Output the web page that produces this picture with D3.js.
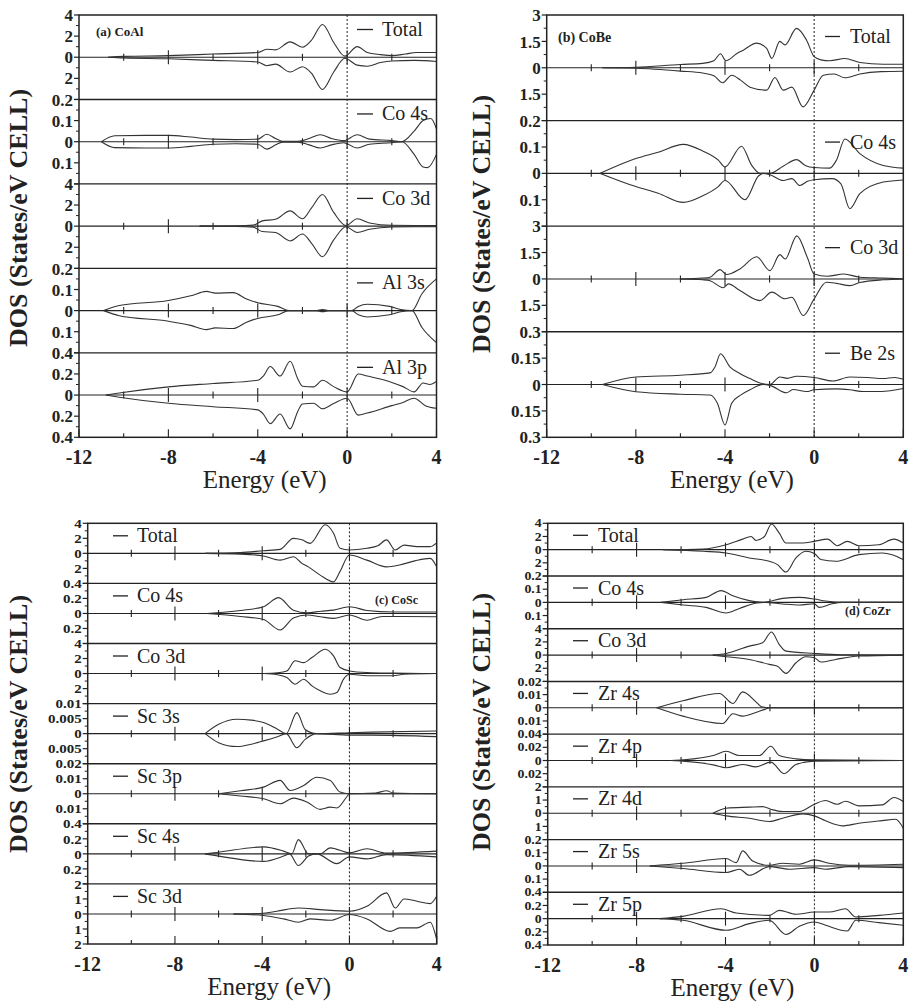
<!DOCTYPE html>
<html><head><meta charset="utf-8">
<script src="https://cdn.jsdelivr.net/npm/d3@7"></script>
<style>
body{margin:0;background:#fff}
svg{display:block}
text{font-family:"Liberation Serif","Times New Roman",Times,serif}
</style>
</head><body>
<svg id="chart" width="909" height="1003"></svg>
<script>
// ================= DATA =================
const energyTicks = [-12, -10, -8, -6, -4, -2, 0, 2, 4];
const energyLabels = [-12, -8, -4, 0, 4];

// ---- (a) CoAl ----
const coAlNames = ["Total", "Co 4s", "Co 3d", "Al 3s", "Al 3p"];
const coAlMax = [4, 0.2, 4, 0.2, 0.4];
const coAlStep = [2, 0.1, 2, 0.1, 0.2];
const coAlTotalUp = [[-10.7,0],[-10,0.08],[-8,0.15],[-6,0.3],[-4,0.45],[-3.6,0.75],[-3.2,0.7],[-2.55,1.45],[-2.0,0.95],[-1.6,1.6],[-1.1,3.1],[-0.6,1.4],[-0.1,0.1],[0.45,1.0],[0.9,0.45],[1.5,0.25],[2,0.15],[2.6,0.3],[3.1,0.45],[4,0.45]];
const coAlTotalDn = [[-10.7,0],[-10,0.08],[-8,0.15],[-6,0.3],[-4,0.45],[-3.6,0.8],[-3.2,0.65],[-2.55,1.4],[-2.0,0.9],[-1.6,1.5],[-1.1,3.05],[-0.6,1.4],[-0.1,0.1],[0.45,0.75],[0.9,0.85],[1.5,0.5],[2,0.35],[3,0.3],[4,0.4]];
const coAlCo4sUp = [[-11,0],[-10.4,0.028],[-9,0.03],[-8,0.03],[-7,0.022],[-6,0.012],[-5,0.01],[-4,0.012],[-3.6,0.035],[-3.2,0.015],[-2.9,0.002],[-2.2,0.002],[-1.7,0.015],[-1.2,0.033],[-0.7,0.015],[-0.15,0.005],[0.45,0.033],[1.0,0.012],[2,0.005],[2.45,0],[3.0,0.05],[3.4,0.1],[3.75,0.11],[4,0.06]];
const coAlCo4sDn = [[-11,0],[-10.4,0.028],[-9,0.03],[-8,0.03],[-7,0.022],[-6,0.012],[-5,0.01],[-4,0.012],[-3.6,0.035],[-3.2,0.015],[-2.9,0.002],[-2.2,0.002],[-1.7,0.015],[-1.2,0.03],[-0.7,0.015],[-0.15,0.005],[0.45,0.03],[1.0,0.012],[2,0.005],[2.45,0],[3.0,0.06],[3.4,0.12],[3.6,0.123],[4,0.06]];
const coAlCo3dUp = [[-6.6,0],[-5,0.03],[-4.2,0.1],[-3.8,0.5],[-3.2,0.65],[-2.55,1.45],[-2.0,0.7],[-1.6,1.7],[-1.1,3.0],[-0.6,1.3],[-0.05,0.05],[0.45,0.7],[1.0,0.3],[2,0.08],[4,0.05]];
const coAlCo3dDn = [[-6.6,0],[-5,0.03],[-4.2,0.1],[-3.8,0.5],[-3.2,0.6],[-2.55,1.4],[-2.0,0.75],[-1.6,1.6],[-1.1,2.9],[-0.6,1.3],[-0.05,0.05],[0.45,0.6],[1.0,0.3],[2,0.08],[4,0.05]];
const coAlAl3sUp = [[-10.9,0],[-10.2,0.024],[-8,0.048],[-7,0.07],[-6.3,0.091],[-5.9,0.083],[-5.1,0.085],[-4.5,0.055],[-4,0.037],[-3.1,0.02],[-2.6,0],[-1.4,0],[-1.1,0.005],[-0.8,0],[0.2,0],[0.5,0.02],[0.9,0.03],[1.9,0.02],[2.4,0.005],[2.9,0],[3.35,0.08],[4,0.15]];
const coAlAl3sDn = [[-10.9,0],[-10.2,0.024],[-8,0.05],[-7,0.07],[-6.3,0.09],[-5.9,0.082],[-5.1,0.085],[-4.5,0.055],[-4,0.037],[-3.1,0.02],[-2.6,0],[-1.4,0],[-1.1,0.005],[-0.8,0],[0.2,0],[0.5,0.02],[0.9,0.03],[1.9,0.02],[2.4,0.005],[2.9,0],[3.35,0.08],[4,0.152]];
const coAlAl3pUp = [[-10.8,0],[-10.2,0.02],[-8,0.078],[-6,0.11],[-4,0.14],[-3.75,0.18],[-3.44,0.27],[-3.0,0.18],[-2.55,0.32],[-2.2,0.15],[-2.0,0.084],[-1.5,0.078],[-1.1,0.14],[-0.6,0.08],[0,0.03],[0.5,0.2],[0.9,0.18],[2,0.12],[2.5,0.08],[3.0,0.03],[3.4,0.115],[3.7,0.1],[4,0.13]];
const coAlAl3pDn = [[-10.8,0],[-10.2,0.02],[-8,0.078],[-6,0.11],[-4,0.14],[-3.75,0.18],[-3.44,0.27],[-3.0,0.18],[-2.55,0.32],[-2.2,0.15],[-2.0,0.084],[-1.5,0.078],[-1.1,0.13],[-0.6,0.08],[0,0.03],[0.5,0.19],[0.9,0.17],[2,0.1],[2.5,0.07],[3.0,0.03],[3.5,0.1],[4,0.125]];

// ---- (b) CoBe ----
const coBeNames = ["Total", "Co 4s", "Co 3d", "Be 2s"];
const coBeMax = [3, 0.2, 3, 0.3];
const coBeStep = [1.5, 0.1, 1.5, 0.15];
const coBeTotalUp = [[-9.5,0],[-8,0.03],[-6,0.19],[-5,0.25],[-4.5,0.4],[-4.2,0.8],[-3.96,0.4],[-3.48,0.8],[-3.18,1.0],[-2.58,1.4],[-2.13,1.1],[-1.9,0.53],[-1.54,1.5],[-1.31,1.3],[-0.79,2.24],[-0.34,1.57],[0,0.63],[0.3,0.45],[0.7,0.4],[1.38,0.53],[2.05,0.3],[3.1,0.2],[4,0.2]];
const coBeTotalDn = [[-9.5,0],[-8,0.03],[-6,0.19],[-5,0.3],[-4.5,0.45],[-4.1,0.85],[-3.7,0.42],[-3.3,0.7],[-2.88,1.1],[-2.13,1.27],[-1.76,0.55],[-1.39,1.27],[-1.0,1.1],[-0.5,2.22],[0,1.27],[0.41,0.42],[0.9,0.35],[1.38,0.57],[2.05,0.35],[3,0.22],[4,0.2]];
const coBeCo4sUp = [[-9.6,0],[-8,0.056],[-7,0.08],[-5.87,0.11],[-5,0.085],[-4.3,0.05],[-4.0,0.024],[-3.26,0.103],[-2.8,0.03],[-2.43,0],[-1.98,0],[-1.39,0.027],[-0.79,0.052],[-0.4,0.03],[0,0.022],[0.7,0.02],[1.0,0.05],[1.38,0.13],[2.05,0.075],[3.1,0.03],[4,0.02]];
const coBeCo4sDn = [[-9.6,0],[-8,0.05],[-7,0.075],[-5.87,0.11],[-5,0.085],[-4.3,0.05],[-4.0,0.027],[-3.1,0.1],[-2.5,0.01],[-2.3,0],[-1.98,0.005],[-1.39,0.027],[-1.0,0.02],[-0.64,0.046],[-0.3,0.03],[0,0.024],[0.8,0.02],[1.2,0.04],[1.6,0.134],[2.05,0.077],[3.1,0.033],[4,0.025]];
const coBeCo3dUp = [[-6,0],[-5,0.05],[-4.67,0.1],[-4.22,0.53],[-3.93,0.25],[-3.33,0.57],[-2.58,1.26],[-1.98,0.47],[-1.54,1.38],[-1.3,1.13],[-0.78,2.45],[-0.3,1.2],[0,0.28],[0.6,0.15],[1.33,0.28],[2.05,0.1],[3.1,0.05],[4,0]];
const coBeCo3dDn = [[-6,0],[-5,0.05],[-4.67,0.1],[-4.08,0.5],[-3.85,0.28],[-3.33,0.66],[-2.43,1.23],[-1.9,0.75],[-1.31,1.13],[-1.0,1.04],[-0.49,2.08],[0,1.13],[0.55,0.19],[1.0,0.25],[1.6,0.38],[2.05,0.2],[3.1,0.05],[4,0]];
const coBeBe2sUp = [[-9.5,0],[-8,0.043],[-6,0.053],[-4.67,0.066],[-4.45,0.1],[-4.2,0.175],[-3.78,0.1],[-3.3,0.06],[-2.88,0.034],[-2.36,0.006],[-1.98,0],[-1.54,0.043],[-1.2,0.035],[-0.79,0.047],[0,0.04],[0.85,0.02],[1.6,0.043],[2.4,0.04],[3.1,0.034],[3.6,0.04],[4,0.03]];
const coBeBe2sDn = [[-9.5,0],[-8,0.041],[-6,0.055],[-4.67,0.06],[-4.34,0.107],[-4.0,0.23],[-3.7,0.107],[-3.3,0.06],[-2.88,0.03],[-2.3,0],[-1.98,0.005],[-1.24,0.047],[-0.95,0.028],[-0.34,0.04],[0,0.03],[1.0,0.025],[1.6,0.03],[2.2,0.04],[3,0.04],[4,0.023]];

// ---- (c) CoSc ----
const coScNames = ["Total", "Co 4s", "Co 3d", "Sc 3s", "Sc 3p", "Sc 4s", "Sc 3d"];
const coScMax = [4, 0.4, 4, 0.01, 0.02, 0.4, 2];
const coScStep = [2, 0.2, 2, 0.005, 0.01, 0.2, 1];
const coScTotalUp = [[-6.6,0],[-5,0.1],[-3.94,0.35],[-3.18,0.53],[-2.57,2.0],[-2.18,1.8],[-1.8,1.33],[-1.11,3.8],[-0.73,2.67],[-0.43,0.67],[0,0.45],[0.8,0.67],[1.3,1.0],[1.7,1.8],[2.1,0.45],[2.5,1.1],[3.1,0.9],[3.7,0.9],[4,1.4]];
const coScTotalDn = [[-6.6,0],[-5,0.1],[-3.94,0.35],[-3.18,0.9],[-2.57,0.45],[-2.18,1.33],[-1.88,1.8],[-1.34,2.9],[-0.73,3.8],[-0.43,2.4],[0,0.22],[0.8,0.9],[1.7,1.8],[2.3,1.55],[3.0,1.0],[3.7,0.67],[4,1.8]];
const coScCo4sUp = [[-6.55,0],[-5,0.04],[-3.94,0.09],[-3.25,0.21],[-2.57,0.044],[-1.95,0.01],[-1.3,0.03],[-0.73,0.044],[0,0.09],[0.8,0.04],[2.0,0.02],[4,0.02]];
const coScCo4sDn = [[-6.55,0],[-5,0.04],[-3.94,0.08],[-3.18,0.22],[-2.57,0.06],[-1.95,0.02],[-1.34,0.044],[-0.73,0.066],[0,0.02],[0.8,0.09],[1.5,0.04],[2.0,0.04],[4,0.044]];
const coScCo3dUp = [[-3.94,0],[-3.3,0.1],[-2.87,0.35],[-2.49,1.7],[-2.1,1.46],[-1.72,2.13],[-1.11,3.24],[-0.73,2.35],[-0.43,0.8],[0,0.35],[0.8,0.13],[2.0,0.05],[4,0]];
const coScCo3dDn = [[-3.94,0],[-3.3,0.15],[-2.87,0.53],[-2.49,1.42],[-2.1,0.75],[-1.72,1.64],[-1.34,2.3],[-0.88,2.75],[-0.58,2.53],[-0.27,0.75],[0,0.1],[0.8,0.3],[2.0,0.3],[2.5,0.1],[4,0]];
const coScSc3sUp = [[-6.62,0],[-6.0,0.0031],[-5.16,0.0048],[-4.5,0.0045],[-3.94,0.0037],[-3.3,0.0015],[-2.9,0],[-2.41,0.007],[-2.03,0.0014],[-1.5,0],[0,0.0003],[1,0.0005],[4,0.0009]];
const coScSc3sDn = [[-6.62,0],[-6.0,0.003],[-5.16,0.0043],[-4.5,0.0035],[-3.94,0.0024],[-3.3,0.001],[-2.9,0],[-2.41,0.0047],[-2.03,0.0019],[-1.5,0],[0,0.0005],[1,0.0005],[4,0.001]];
const coScSc3pUp = [[-6.0,0],[-5,0.002],[-3.94,0.0044],[-3.18,0.0089],[-2.72,0.0022],[-2.1,0.0055],[-1.5,0.011],[-0.88,0.0089],[-0.43,0.0011],[0,0],[1.2,0.0005],[1.7,0.002],[2.0,0.0005],[4,0]];
const coScSc3pDn = [[-6.0,0],[-5,0.0015],[-3.94,0.0033],[-3.18,0.0067],[-2.57,0.0029],[-1.95,0.0055],[-1.34,0.0104],[-0.88,0.0089],[-0.58,0.0095],[-0.12,0.002],[0,0],[4,0]];
const coScSc4sUp = [[-6.62,0],[-6.0,0.022],[-3.94,0.093],[-3.02,0.036],[-2.64,0],[-2.34,0.19],[-1.88,0],[-1.34,0],[-0.88,0.08],[0,0.013],[0.8,0.067],[1.7,0.01],[4,0.036]];
const coScSc4sDn = [[-6.62,0],[-6.0,0.03],[-3.94,0.1],[-3.02,0.03],[-2.75,0],[-2.34,0.155],[-1.88,0.03],[-1.5,0],[-0.58,0.13],[0,0.04],[0.8,0.067],[1.7,0.01],[4,0.04]];
const coScSc3dUp = [[-5.32,0],[-3.94,0.05],[-3.33,0.18],[-2.34,0.4],[-1.34,0.29],[0,0.18],[0.8,0.51],[1.7,1.4],[2.1,0.4],[2.5,1.0],[3.1,0.85],[3.7,0.69],[4,1.18]];
const coScSc3dDn = [[-5.32,0],[-3.94,0.1],[-3.02,0.33],[-2.34,0.55],[-1.8,0.33],[-0.88,0.42],[0,0.04],[0.8,0.33],[1.87,1.16],[2.3,0.93],[3.1,0.93],[3.7,0.55],[4,1.7]];

// ---- (d) CoZr ----
const coZrNames = ["Total", "Co 4s", "Co 3d", "Zr 4s", "Zr 4p", "Zr 4d", "Zr 5s", "Zr 5p"];
const coZrMax = [4, 0.2, 4, 0.02, 0.04, 2, 0.2, 0.4];
const coZrStep = [2, 0.1, 2, 0.01, 0.02, 1, 0.1, 0.2];
const coZrTotalUp = [[-6.8,0],[-5,0.1],[-3.97,0.75],[-3.23,1.6],[-2.85,2.0],[-2.63,1.4],[-2.25,2.0],[-1.93,3.9],[-1.58,2.5],[-1.28,1.0],[-0.53,1.0],[0,1.26],[0.59,1.6],[1.03,0.6],[1.48,1.26],[2.0,0.6],[2.9,0.75],[3.58,1.6],[4,1.0]];
const coZrTotalDn = [[-6.8,0],[-5,0.25],[-3.97,0.5],[-2.93,1.26],[-2.03,1.77],[-1.66,2.27],[-1.28,3.4],[-0.83,1.26],[-0.39,0.25],[0,0.6],[0.29,1.5],[0.96,1.77],[2.0,0.76],[3.05,0.5],[3.5,0.76],[4,1.5]];
const coZrCo4sUp = [[-6.9,0],[-5.9,0.02],[-4.87,0.038],[-4.2,0.089],[-3.67,0.05],[-2.93,0.013],[-2.33,0],[-1.43,0.03],[-0.68,0.038],[0,0.025],[0.5,0.01],[1.26,0],[4,0]];
const coZrCo4sDn = [[-6.9,0],[-5.9,0.02],[-4.87,0.038],[-3.97,0.081],[-3.37,0.046],[-2.6,0.005],[-2.2,0],[-1.43,0.012],[-0.68,0.02],[0,0.01],[0.21,0.038],[0.8,0.01],[1.26,0],[4,0]];
const coZrCo3dUp = [[-4.57,0],[-3.97,0.25],[-2.93,1.36],[-2.33,1.87],[-1.93,3.5],[-1.58,1.6],[-1.28,0.6],[0,0.25],[1.2,0.05],[4,0]];
const coZrCo3dDn = [[-4.57,0],[-3.97,0.25],[-2.93,0.66],[-2.03,1.41],[-1.66,1.7],[-1.28,2.78],[-0.83,1.16],[-0.39,0.25],[0,0.4],[0.29,1.06],[0.96,0.66],[2.0,0.15],[4,0]];
const coZrZr4sUp = [[-7.1,0],[-5.92,0.0053],[-4.27,0.0109],[-3.67,0.0033],[-3.23,0.0121],[-2.63,0.0045],[-2.4,0.001],[-2.0,0],[4,0]];
const coZrZr4sDn = [[-7.1,0],[-5.92,0.0063],[-4.12,0.0119],[-3.67,0.0045],[-3.23,0.0063],[-2.63,0.0035],[-2.2,0.001],[-2.0,0],[4,0]];
const coZrZr4pUp = [[-6.44,0],[-5.92,0.001],[-4.5,0.008],[-3.97,0.014],[-3.37,0.0075],[-2.48,0.0075],[-1.96,0.0217],[-1.58,0.0075],[-0.83,0.0025],[0,0.001],[4,0]];
const coZrZr4pDn = [[-6.44,0],[-5.92,0.001],[-4.5,0.007],[-3.97,0.011],[-3.23,0.006],[-2.63,0.0096],[-1.96,0.0025],[-1.36,0.02],[-0.83,0.006],[0,0.001],[4,0]];
const coZrZr4dUp = [[-4.57,0],[-3.97,0.38],[-2.93,0.46],[-2.33,0.5],[-1.96,0.3],[-1.43,0.13],[-0.68,0.13],[0,0.68],[0.5,0.96],[1.03,0.68],[1.4,0.91],[2.0,0.56],[3.05,0.63],[3.58,1.19],[4,0.89]];
const coZrZr4dDn = [[-4.57,0],[-3.97,0.2],[-2.93,0.38],[-2.03,0.63],[-1.43,0.38],[-0.53,0.05],[0,0.2],[0.5,0.58],[1.26,0.96],[2.0,0.76],[3.05,0.56],[3.65,0.46],[4,1.14]];
const coZrZr5sUp = [[-7.41,0],[-5.92,0.02],[-3.97,0.056],[-3.52,0.025],[-3.23,0.114],[-2.78,0.038],[-2.03,0.005],[-1.43,0.02],[-0.68,0.013],[0,0.046],[0.66,0.02],[1.56,0.005],[4,0.013]];
const coZrZr5sDn = [[-7.41,0],[-5.92,0.02],[-3.97,0.05],[-3.37,0.025],[-2.93,0.071],[-2.03,0.005],[-1.13,0.025],[0,0.013],[0.5,0.025],[1.56,0.005],[4,0.013]];
const coZrZr5pUp = [[-6.96,0],[-5.92,0.035],[-4.2,0.15],[-3.52,0.086],[-2.03,0.05],[-1.58,0.126],[-0.83,0.066],[0,0.1],[0.66,0.1],[1.4,0.15],[1.86,0.025],[2.9,0.05],[4,0.086]];
const coZrZr5pDn = [[-6.96,0],[-5.92,0.025],[-3.97,0.177],[-2.93,0.076],[-2.03,0.025],[-1.28,0.24],[-0.68,0.116],[0,0.05],[0.5,0.1],[1.48,0.187],[1.86,0.025],[2.9,0.06],[4,0.1]];

// ================= LAYOUT =================
const panels = [
  { tag: "(a) CoAl", x0: 79, x1: 436.5, top: 15, bottom: 437.3,
    names: coAlNames, max: coAlMax, step: coAlStep,
    up: [coAlTotalUp, coAlCo4sUp, coAlCo3dUp, coAlAl3sUp, coAlAl3pUp],
    dn: [coAlTotalDn, coAlCo4sDn, coAlCo3dDn, coAlAl3sDn, coAlAl3pDn],
    tagX: 96, tagY: 36, tagSize: 13, legLine: [357, 373], legText: 382, legDy: 21,
    titleX: 27, titleY: 218, tickSize: 17, tickScale: 1 },
  { tag: "(b) CoBe", x0: 546.7, x1: 903.3, top: 15, bottom: 437.3,
    names: coBeNames, max: coBeMax, step: coBeStep,
    up: [coBeTotalUp, coBeCo4sUp, coBeCo3dUp, coBeBe2sUp],
    dn: [coBeTotalDn, coBeCo4sDn, coBeCo3dDn, coBeBe2sDn],
    tagX: 558, tagY: 42, tagSize: 14, legLine: [825, 840], legText: 850, legDy: 28,
    titleX: 490, titleY: 224, tickSize: 17, tickScale: 1 },
  { tag: "(c) CoSc", x0: 87.7, x1: 436.7, top: 523.3, bottom: 944,
    names: coScNames, max: coScMax, step: coScStep,
    up: [coScTotalUp, coScCo4sUp, coScCo3dUp, coScSc3sUp, coScSc3pUp, coScSc4sUp, coScSc3dUp],
    dn: [coScTotalDn, coScCo4sDn, coScCo3dDn, coScSc3sDn, coScSc3pDn, coScSc4sDn, coScSc3dDn],
    tagX: 375, tagY: 604, tagSize: 12, legLine: [113, 128], legText: 137, legDy: 19,
    titleX: 27, titleY: 724, tickSize: 13, tickScale: 1.15 },
  { tag: "(d) CoZr", x0: 547.7, x1: 903.3, top: 523.3, bottom: 945,
    names: coZrNames, max: coZrMax, step: coZrStep,
    up: [coZrTotalUp, coZrCo4sUp, coZrCo3dUp, coZrZr4sUp, coZrZr4pUp, coZrZr4dUp, coZrZr5sUp, coZrZr5pUp],
    dn: [coZrTotalDn, coZrCo4sDn, coZrCo3dDn, coZrZr4sDn, coZrZr4pDn, coZrZr4dDn, coZrZr5sDn, coZrZr5pDn],
    tagX: 845, tagY: 615, tagSize: 12, legLine: [573, 588], legText: 598, legDy: 18.5,
    titleX: 490, titleY: 722, tickSize: 11.5, tickScale: 1.2 }
];

const svg = d3.select("#chart");
const fmt = v => String(+Math.abs(v).toFixed(4));

panels.forEach((p, pi) => {
  const g = svg.append("g");
  const x = d3.scaleLinear().domain([-12, 4]).range([p.x0, p.x1]);
  const n = p.names.length;
  const h = (p.bottom - p.top) / n;

  const clipId = "clip" + pi;
  svg.append("clipPath").attr("id", clipId).append("rect")
    .attr("x", p.x0).attr("y", p.top).attr("width", p.x1 - p.x0).attr("height", p.bottom - p.top);

  for (let i = 0; i < n; i++) {
    const t = p.top + i * h, b = t + h;
    const y = d3.scaleLinear().domain([-p.max[i], p.max[i]]).range([b, t]);
    const y0 = y(0);

    // y ticks (left, outward)
    const majors = d3.range(-p.max[i], p.max[i] + p.step[i] / 2, p.step[i]);
    const minors = d3.range(-p.max[i] + p.step[i] / 2, p.max[i], p.step[i]);
    g.selectAll(null).data(majors).join("line")
      .attr("x1", p.x0 - 5).attr("x2", p.x0).attr("y1", d => y(d)).attr("y2", d => y(d))
      .attr("stroke", "#222").attr("stroke-width", 1.2);
    g.selectAll(null).data(minors).join("line")
      .attr("x1", p.x0 - 3).attr("x2", p.x0).attr("y1", d => y(d)).attr("y2", d => y(d))
      .attr("stroke", "#222").attr("stroke-width", 1);
    const labelVals = majors.filter(d => i === n - 1 || d > -p.max[i] + 1e-9);
    g.selectAll(null).data(labelVals).join("text")
      .attr("transform", d => `translate(${p.x0 - 6},${y(d)}) scale(${p.tickScale},1)`)
      .attr("dy", "0.36em")
      .attr("text-anchor", "end").attr("font-weight", "bold")
      .attr("font-size", p.tickSize).attr("fill", "#222").text(d => fmt(d));

    // zero line
    g.append("line").attr("x1", p.x0).attr("x2", p.x1).attr("y1", y0).attr("y2", y0)
      .attr("stroke", "#222").attr("stroke-width", 1.1);
    // cross ticks on zero line
    g.selectAll(null).data(energyTicks.filter(e => e > -12 && e < 4)).join("line")
      .attr("x1", d => x(d)).attr("x2", d => x(d))
      .attr("y1", d => y0 - (d % 4 === 0 ? 7 : 3.5)).attr("y2", d => y0 + (d % 4 === 0 ? 7 : 3.5))
      .attr("stroke", "#222").attr("stroke-width", 1.1);

    // separator line
    if (i > 0) g.append("line").attr("x1", p.x0).attr("x2", p.x1).attr("y1", t).attr("y2", t)
      .attr("stroke", "#222").attr("stroke-width", 1.4);

    // curves
    const lineUp = d3.line().x(d => x(d[0])).y(d => y(d[1])).curve(d3.curveMonotoneX);
    const lineDn = d3.line().x(d => x(d[0])).y(d => y(-d[1])).curve(d3.curveMonotoneX);
    const cg = g.append("g").attr("clip-path", `url(#${clipId})`);
    cg.append("path").attr("d", lineUp(p.up[i])).attr("fill", "none").attr("stroke", "#333").attr("stroke-width", 1.1);
    cg.append("path").attr("d", lineDn(p.dn[i])).attr("fill", "none").attr("stroke", "#333").attr("stroke-width", 1.1);

    // legend
    g.append("line").attr("x1", p.legLine[0]).attr("x2", p.legLine[1])
      .attr("y1", t + p.legDy - 6.5).attr("y2", t + p.legDy - 6.5).attr("stroke", "#222").attr("stroke-width", 1.3);
    g.append("text").attr("x", p.legText).attr("y", t + p.legDy)
      .attr("font-size", 20).attr("fill", "#222").text(p.names[i]);
  }

  // dotted Fermi line
  g.append("line").attr("x1", x(0)).attr("x2", x(0)).attr("y1", p.top).attr("y2", p.bottom)
    .attr("stroke", "#222").attr("stroke-width", 1).attr("stroke-dasharray", "2,2");

  // bottom axis ticks
  g.selectAll(null).data(energyTicks).join("line")
    .attr("x1", d => x(d)).attr("x2", d => x(d))
    .attr("y1", p.bottom).attr("y2", d => p.bottom - (d % 4 === 0 ? 8 : 4))
    .attr("stroke", "#222").attr("stroke-width", 1.1);
  g.selectAll(null).data(energyLabels).join("text")
    .attr("x", d => x(d)).attr("y", p.bottom + 27).attr("text-anchor", "middle")
    .attr("font-weight", "bold").attr("font-size", 20).attr("fill", "#222")
    .text(d => d);

  // frame
  g.append("rect").attr("x", p.x0).attr("y", p.top).attr("width", p.x1 - p.x0).attr("height", p.bottom - p.top)
    .attr("fill", "none").attr("stroke", "#222").attr("stroke-width", 1.5);

  // titles
  g.append("text").attr("x", (p.x0 + p.x1) / 2 + 7).attr("y", p.bottom + 51).attr("text-anchor", "middle")
    .attr("font-size", 25).attr("fill", "#222").text("Energy (eV)");
  g.append("text").attr("transform", `translate(${p.titleX},${p.titleY}) rotate(-90)`)
    .attr("text-anchor", "middle").attr("font-weight", "bold")
    .attr("font-size", 26).attr("fill", "#222").text("DOS (States/eV CELL)");
  g.append("text").attr("x", p.tagX).attr("y", p.tagY)
    .attr("font-weight", "bold").attr("font-size", p.tagSize).attr("fill", "#222")
    .text(p.tag);
});
</script>
</body></html>
